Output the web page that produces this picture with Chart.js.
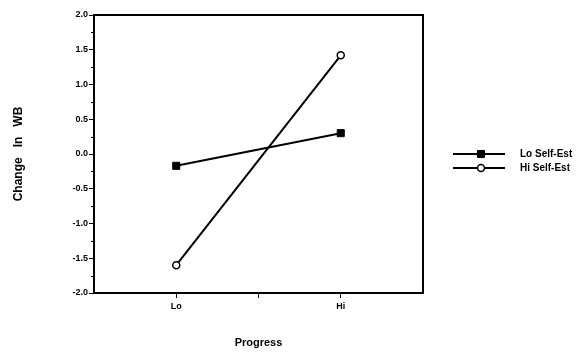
<!DOCTYPE html>
<html>
<head>
<meta charset="utf-8">
<script src="https://cdn.jsdelivr.net/npm/chart.js@4/dist/chart.umd.min.js"></script>
<style>
  html, body { margin: 0; padding: 0; background: #fff; }
  #wrap { width: 586px; height: 354px; position: relative; }
</style>
</head>
<body>
<div id="wrap"><canvas id="c"></canvas></div>
<script>
// Progress level on x, change in well-being on y
const progressLevels = ["Lo", "Hi"];
const loSelfEst = [-0.17, 0.30];
const hiSelfEst = [-1.60, 1.42];
const seriesNames = ["Lo Self-Est", "Hi Self-Est"];
const yTicks = [-2.0, -1.5, -1.0, -0.5, 0.0, 0.5, 1.0, 1.5, 2.0];

const FONT = "'Liberation Sans', Arial, sans-serif";
const INK = "#000";

// Lo sits at slot 1, Hi at slot 3 of a 0..4 axis
const toPoints = (vals) => vals.map((y, i) => ({ x: i * 2 + 1, y }));

// box round the plot, minor y ticks, legend with line + marker
const frame = {
  id: "frame",
  afterDraw(chart) {
    const { ctx, chartArea: a, scales } = chart;
    ctx.save();
    ctx.strokeStyle = INK;
    ctx.lineWidth = 2;
    ctx.strokeRect(a.left, a.top, a.right - a.left, a.bottom - a.top);

    ctx.lineWidth = 1;
    const y = scales.y;
    for (let v = y.min + 0.25; v < y.max; v += 0.5) {
      const py = Math.round(y.getPixelForValue(v)) + 0.5;
      ctx.beginPath();
      ctx.moveTo(a.left - 3, py);
      ctx.lineTo(a.left, py);
      ctx.stroke();
    }

    // legend
    const lx = 453, lw = 52, rows = [154, 168];
    chart.data.datasets.forEach((ds, i) => {
      const ry = rows[i];
      ctx.strokeStyle = INK;
      ctx.lineWidth = 2;
      ctx.beginPath();
      ctx.moveTo(lx, ry);
      ctx.lineTo(lx + lw, ry);
      ctx.stroke();
      Chart.helpers.drawPoint(ctx, {
        pointStyle: ds.pointStyle,
        radius: ds.pointRadius,
        borderWidth: ds.pointBorderWidth,
      }, lx + 28, ry);
      ctx.fillStyle = INK;
      ctx.font = "bold 10px " + FONT;
      ctx.textBaseline = "middle";
      ctx.fillText(ds.label, 520, ry);
    });
    ctx.restore();
  },
};

// drawPoint reads fill / stroke from the context
const pointDraw = Chart.helpers.drawPoint;
Chart.helpers.drawPoint = function (ctx, opts, x, y) {
  ctx.save();
  ctx.strokeStyle = INK;
  ctx.lineWidth = opts.borderWidth || 1.5;
  ctx.fillStyle = opts.pointStyle === "rect" ? INK : "#fff";
  pointDraw(ctx, opts, x, y);
  ctx.restore();
};

new Chart(document.getElementById("c"), {
  type: "line",
  data: {
    datasets: [
      {
        label: seriesNames[0],
        data: toPoints(loSelfEst),
        borderColor: INK,
        borderWidth: 2,
        pointStyle: "rect",
        pointRadius: 5,
        pointBackgroundColor: INK,
        pointBorderColor: INK,
        pointBorderWidth: 1,
      },
      {
        label: seriesNames[1],
        data: toPoints(hiSelfEst),
        borderColor: INK,
        borderWidth: 2,
        pointStyle: "circle",
        pointRadius: 3.5,
        pointBackgroundColor: "#fff",
        pointBorderColor: INK,
        pointBorderWidth: 1.5,
      },
    ],
  },
  options: {
    responsive: true,
    maintainAspectRatio: false,
    animation: false,
    layout: { padding: { top: 15, right: 163, left: 0, bottom: 0 } },
    scales: {
      x: {
        type: "linear",
        min: 0,
        max: 4,
        afterFit: (s) => { s.height = 61; },
        afterBuildTicks: (s) => { s.ticks = [1, 2, 3].map((v) => ({ value: v })); },
        grid: { drawOnChartArea: false, color: INK, tickLength: 5, lineWidth: 1 },
        border: { display: true, color: INK, width: 2 },
        ticks: {
          color: INK,
          padding: 3,
          maxRotation: 0,
          font: { family: FONT, size: 9, weight: "bold" },
          callback: (v) => (v % 2 === 1 ? progressLevels[(v - 1) / 2] : ""),
        },
        title: {
          display: true,
          text: "Progress",
          color: INK,
          font: { family: FONT, size: 11, weight: "bold" },
          padding: { top: 0, bottom: 4 },
        },
      },
      y: {
        min: -2,
        max: 2,
        afterFit: (s) => { s.width = 94; },
        afterBuildTicks: (s) => { s.ticks = yTicks.map((v) => ({ value: v })); },
        grid: { drawOnChartArea: false, color: INK, tickLength: 5, lineWidth: 1 },
        border: { display: true, color: INK, width: 2 },
        ticks: {
          color: INK,
          padding: 1,
          font: { family: FONT, size: 9, weight: "bold" },
          callback: (v) => v.toFixed(1),
        },
        title: {
          display: true,
          text: "Change   In   WB",
          color: INK,
          font: { family: FONT, size: 12, weight: "bold" },
          padding: { top: 11, bottom: 0 },
        },
      },
    },
    plugins: {
      legend: { display: false },
      tooltip: { enabled: false },
    },
  },
  plugins: [frame],
});
</script>
</body>
</html>
